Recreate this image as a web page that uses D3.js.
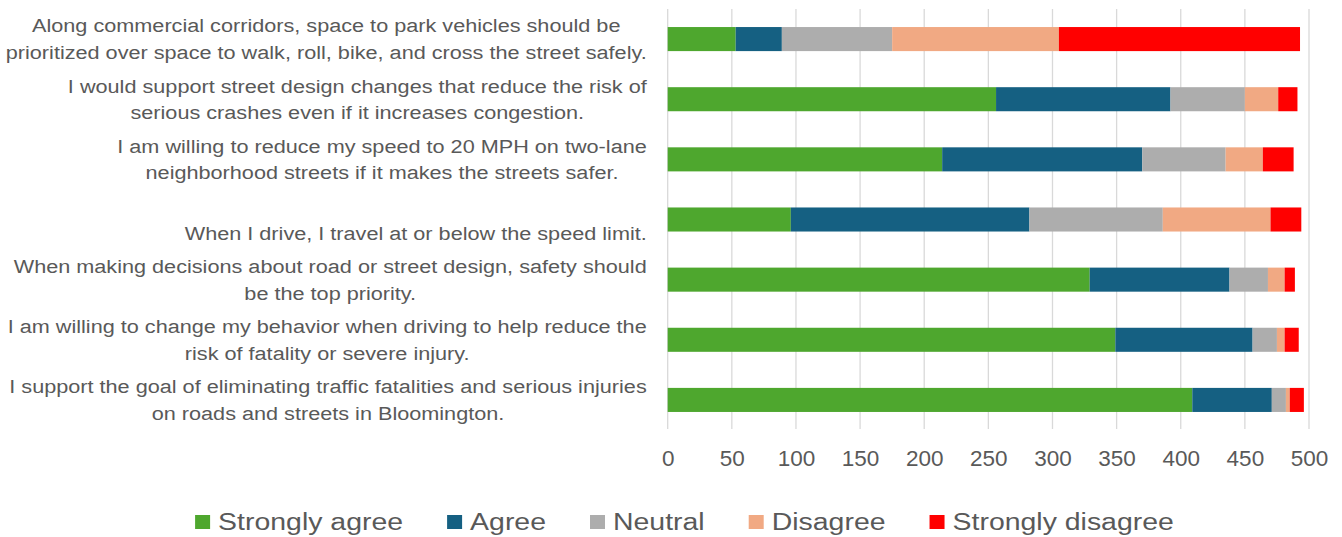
<!DOCTYPE html>
<html>
<head>
<meta charset="utf-8">
<script src="https://cdn.jsdelivr.net/npm/d3@7"></script>
<style>
  html, body { margin: 0; padding: 0; background: #fff; }
  svg { display: block; }
</style>
</head>
<body>
<svg id="chart" width="1342" height="537"></svg>
<script>
const categories = [
  "Along commercial corridors, space to park vehicles should be\nprioritized over space to walk, roll, bike, and cross the street safely.",
  "I would support street design changes that reduce the risk of\nserious crashes even if it increases congestion.",
  "I am willing to reduce my speed to 20 MPH on two-lane\nneighborhood streets if it makes the streets safer.",
  "\nWhen I drive, I travel at or below the speed limit.",
  "When making decisions about road or street design, safety should\nbe the top priority.",
  "I am willing to change my behavior when driving to help reduce the\nrisk of fatality or severe injury.",
  "I support the goal of eliminating traffic fatalities and serious injuries\non roads and streets in Bloomington."
];
const seriesNames = ["Strongly agree", "Agree", "Neutral", "Disagree", "Strongly disagree"];
const stronglyAgree    = [53, 256, 214, 96, 329, 349, 409];
const agree            = [36, 136, 156, 186, 109, 107, 62];
const neutral          = [86, 58, 65, 104, 30, 19, 11];
const disagree         = [130, 26, 29, 84, 13, 6, 3];
const stronglyDisagree = [188, 15, 24, 24, 8, 11, 11];
const xTicks = [0, 50, 100, 150, 200, 250, 300, 350, 400, 450, 500];
const seriesColors = ["#4EA72E", "#156082", "#ADADAD", "#F1A983", "#FF0000"];

const svg = d3.select("#chart");
const textColor = "#595959";
const font = "'Liberation Sans', Arial, sans-serif";

const x = d3.scaleLinear().domain([0, 500]).range([667.7, 1309]);
const y = d3.scaleBand().domain(d3.range(categories.length)).range([9, 430])
  .paddingInner(0.6).paddingOuter(0.3);

const seriesValues = [stronglyAgree, agree, neutral, disagree, stronglyDisagree];
const rows = categories.map((c, i) => {
  const r = { idx: i };
  seriesNames.forEach((s, j) => r[s] = seriesValues[j][i]);
  return r;
});
const stacked = d3.stack().keys(seriesNames)(rows);

// gridlines
svg.append("g").selectAll("line").data(xTicks).join("line")
  .attr("x1", d => x(d)).attr("x2", d => x(d))
  .attr("y1", 9).attr("y2", 429)
  .attr("stroke", "#D9D9D9").attr("stroke-width", 1.3);

// bars
svg.append("g").selectAll("g").data(stacked).join("g")
  .attr("fill", (d, i) => seriesColors[i])
  .selectAll("rect").data(d => d).join("rect")
  .attr("x", d => x(d[0]))
  .attr("width", d => x(d[1]) - x(d[0]))
  .attr("y", d => y(d.data.idx))
  .attr("height", y.bandwidth());

// x axis tick labels
const xAxis = d3.axisBottom(x).tickValues(xTicks).tickSize(0).tickPadding(0);
const ax = svg.append("g").attr("transform", "translate(0,450)").call(xAxis);
ax.select(".domain").remove();
ax.selectAll("text")
  .attr("fill", textColor)
  .attr("font-family", font)
  .attr("font-size", 22.5)
  .attr("dy", "0.71em");

// category labels
const labelSize = 19;
const lineH = 26.7;
const probe = svg.append("text").attr("font-family", font).attr("font-size", labelSize)
  .text("I support the goal of eliminating traffic fatalities and serious injuries");
const kLabel = 638 / probe.node().getComputedTextLength();
probe.remove();

const labelRight = 647;
categories.forEach((c, i) => {
  const lines = c.split("\n");
  const cy = y(i) + y.bandwidth() / 2;
  const g = svg.append("g");
  const texts = lines.map((ln, j) => g.append("text")
    .attr("font-family", font).attr("font-size", labelSize)
    .attr("fill", textColor).attr("text-anchor", "middle")
    .attr("dy", "0.35em")
    .text(ln));
  const maxW = d3.max(texts, t => t.node().getComputedTextLength()) * kLabel;
  const cx = labelRight - maxW / 2;
  texts.forEach((t, j) => {
    const ly = cy + (j - (lines.length - 1) / 2) * lineH;
    t.attr("transform", `translate(${cx},${ly}) scale(${kLabel},1)`);
  });
});

// legend
const legSize = 23;
const probe2 = svg.append("text").attr("font-family", font).attr("font-size", legSize).text("Strongly agree");
const kLeg = 185 / probe2.node().getComputedTextLength();
probe2.remove();
const legG = svg.append("g");
let cursor = 0;
const legY = 522;
seriesNames.forEach((s, i) => {
  legG.append("rect").attr("x", cursor).attr("y", legY - 7).attr("width", 15).attr("height", 14)
    .attr("fill", seriesColors[i]);
  cursor += 15 + 8;
  const t = legG.append("text").attr("font-family", font).attr("font-size", legSize)
    .attr("fill", textColor).attr("dy", "0.35em").text(s);
  const w = t.node().getComputedTextLength() * kLeg;
  t.attr("transform", `translate(${cursor},${legY}) scale(${kLeg},1)`);
  cursor += w;
  if (i < seriesNames.length - 1) cursor += 44;
});
legG.attr("transform", `translate(${684.5 - cursor / 2},0)`);
</script>
</body>
</html>
